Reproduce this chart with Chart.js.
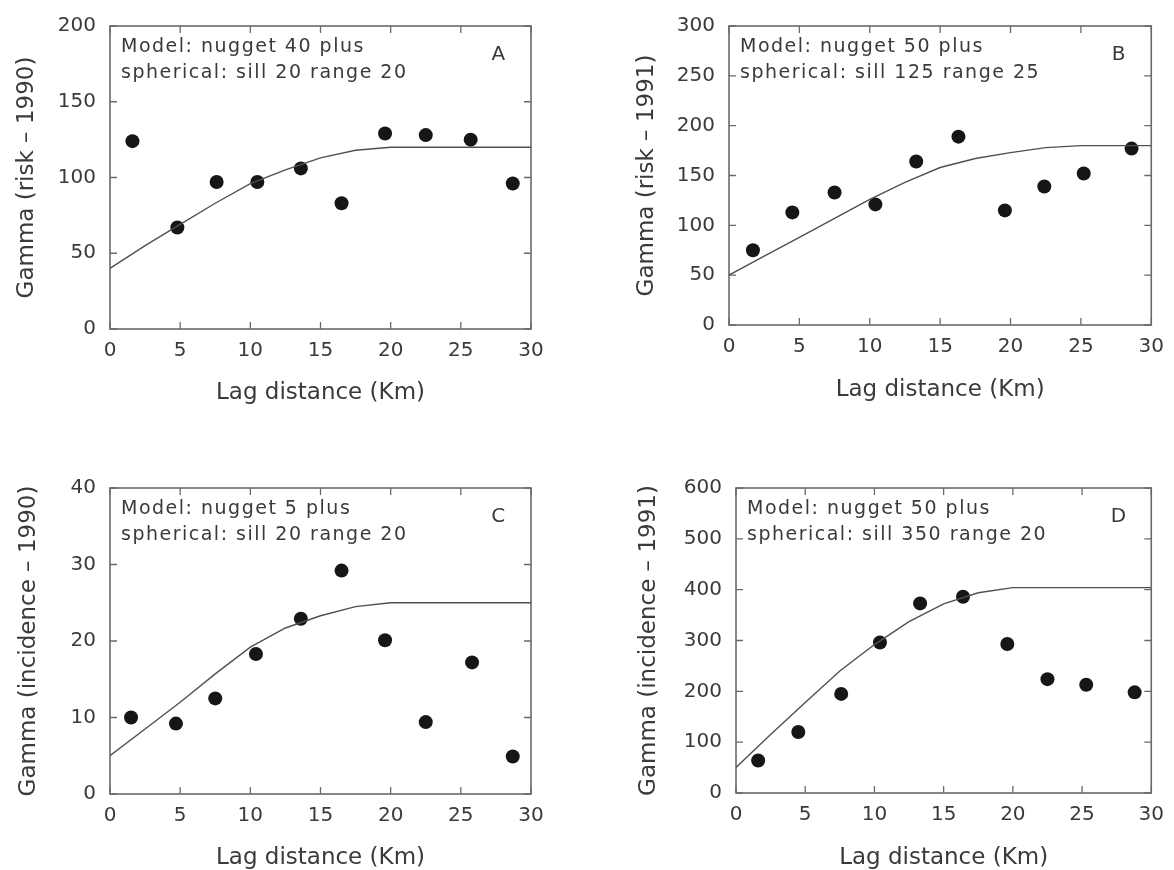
<!DOCTYPE html>
<html><head><meta charset="utf-8">
<script src="https://cdn.jsdelivr.net/npm/chart.js@4.4.1/dist/chart.umd.min.js"></script>
<style>
html,body{margin:0;padding:0;background:#fff;}
body{width:1174px;height:870px;position:relative;overflow:hidden;}
canvas{position:absolute;}
</style></head><body>
<canvas id="cA" width="587" height="435" style="left:0px;top:0px"></canvas>
<canvas id="cB" width="587" height="435" style="left:587px;top:0px"></canvas>
<canvas id="cC" width="587" height="435" style="left:0px;top:435px"></canvas>
<canvas id="cD" width="587" height="435" style="left:587px;top:435px"></canvas>
<script>
// ---- data ----
const xTickValues = [0, 5, 10, 15, 20, 25, 30];

const lagA   = [1.6, 4.8, 7.6, 10.5, 13.6, 16.5, 19.6, 22.5, 25.7, 28.7];
const gammaA = [124, 67, 97, 97, 106, 83, 129, 128, 125, 96];
const modelXA = [0, 2.5, 5, 7.5, 10, 12.5, 15, 17.5, 20, 30];
const modelYA = [40, 55, 69, 83, 96, 105, 113, 118, 120, 120];
const yTicksA = [0, 50, 100, 150, 200];

const lagB   = [1.7, 4.5, 7.5, 10.4, 13.3, 16.3, 19.6, 22.4, 25.2, 28.6];
const gammaB = [75, 113, 133, 121, 164, 189, 115, 139, 152, 177];
const modelXB = [0, 2.5, 5, 7.5, 10, 12.5, 15, 17.5, 20, 22.5, 25, 30];
const modelYB = [50, 69, 88, 107, 126, 143, 158, 167, 173, 178, 180, 180];
const yTicksB = [0, 50, 100, 150, 200, 250, 300];

const lagC   = [1.5, 4.7, 7.5, 10.4, 13.6, 16.5, 19.6, 22.5, 25.8, 28.7];
const gammaC = [10, 9.2, 12.5, 18.3, 22.9, 29.2, 20.1, 9.4, 17.2, 4.9];
const modelXC = [0, 2.5, 5, 7.5, 10, 12.5, 15, 17.5, 20, 30];
const modelYC = [5, 8.5, 12, 15.7, 19.2, 21.7, 23.3, 24.5, 25, 25];
const yTicksC = [0, 10, 20, 30, 40];

const lagD   = [1.6, 4.5, 7.6, 10.4, 13.3, 16.4, 19.6, 22.5, 25.3, 28.8];
const gammaD = [64, 120, 195, 296, 373, 386, 293, 224, 213, 198];
const modelXD = [0, 2.5, 5, 7.5, 10, 12.5, 15, 17.5, 20, 30];
const modelYD = [50, 115, 178, 240, 292, 337, 372, 394, 404, 404];
const yTicksD = [0, 100, 200, 300, 400, 500, 600];

const xTitle = 'Lag distance (Km)';
const yTitles = ['Gamma (risk – 1990)', 'Gamma (risk – 1991)', 'Gamma (incidence – 1990)', 'Gamma (incidence – 1991)'];
const notes1 = ['Model: nugget 40 plus', 'Model: nugget 50 plus', 'Model: nugget 5 plus', 'Model: nugget 50 plus'];
const notes2 = ['spherical: sill 20 range 20', 'spherical: sill 125 range 25', 'spherical: sill 20 range 20', 'spherical: sill 350 range 20'];
const letters = ['A', 'B', 'C', 'D'];

// ---- layout / style (not data) ----
const layouts = [
  {id:'cA', yW:110, padTop:22, padRight:56, xH:106, xTitlePB:30, yTitlePT:16},
  {id:'cB', yW:142, padTop:21, padRight:18, xH:110, xTitlePB:33, yTitlePT:49},
  {id:'cC', yW:110, padTop:53, padRight:56, xH:76,  xTitlePB:0,  yTitlePT:18},
  {id:'cD', yW:149, padTop:53, padRight:13, xH:77,  xTitlePB:0,  yTitlePT:51}
];
const series = [
  {lag:lagA, gamma:gammaA, mx:modelXA, my:modelYA, yt:yTicksA},
  {lag:lagB, gamma:gammaB, mx:modelXB, my:modelYB, yt:yTicksB},
  {lag:lagC, gamma:gammaC, mx:modelXC, my:modelYC, yt:yTicksC},
  {lag:lagD, gamma:gammaD, mx:modelXD, my:modelYD, yt:yTicksD}
];

const TEXT = '#3a3a3a';
const FRAME = '#6a6a6a';

const framePlugin = {
  id: 'frame',
  beforeDatasetsDraw(chart) {
    const {ctx, chartArea: a, scales} = chart;
    ctx.save();
    ctx.strokeStyle = FRAME;
    ctx.lineWidth = 1.6;
    ctx.strokeRect(a.left, a.top, a.right - a.left, a.bottom - a.top);
    ctx.lineWidth = 1.3;
    const tl = 7;
    ctx.beginPath();
    xTickValues.forEach(v => {
      const x = scales.x.getPixelForValue(v);
      ctx.moveTo(x, a.bottom); ctx.lineTo(x, a.bottom - tl);
      ctx.moveTo(x, a.top); ctx.lineTo(x, a.top + tl);
    });
    chart.options.plugins.frame.yt.forEach(v => {
      const y = scales.y.getPixelForValue(v);
      ctx.moveTo(a.left, y); ctx.lineTo(a.left + tl, y);
      ctx.moveTo(a.right, y); ctx.lineTo(a.right - tl, y);
    });
    ctx.stroke();
    ctx.restore();
  },
  afterDraw(chart) {
    const {ctx, chartArea: a} = chart;
    const o = chart.options.plugins.frame;
    ctx.save();
    ctx.fillStyle = TEXT;
    ctx.font = '19px "DejaVu Sans"';
    ctx.textBaseline = 'alphabetic';
    ctx.textAlign = 'left';
    try { ctx.letterSpacing = '1.5px'; } catch (e) {}
    ctx.fillText(o.note1, a.left + 11, a.top + 26);
    ctx.fillText(o.note2, a.left + 11, a.top + 52);
    ctx.font = '20px "DejaVu Sans"';
    ctx.textAlign = 'center';
    ctx.fillText(o.letter, a.right - 32, a.top + 34);
    ctx.restore();
  }
};

series.forEach((s, i) => {
  const L = layouts[i];
  const yMax = s.yt[s.yt.length - 1];
  const yStep = s.yt[1] - s.yt[0];
  new Chart(document.getElementById(L.id), {
    type: 'scatter',
    data: {
      datasets: [
        {
          type: 'line',
          data: s.mx.map((x, k) => ({x, y: s.my[k]})),
          borderColor: '#505050',
          borderWidth: 1.4,
          pointRadius: 0,
          tension: 0,
          fill: false,
          showLine: true
        },
        {
          data: s.lag.map((x, k) => ({x, y: s.gamma[k]})),
          backgroundColor: '#161616',
          borderColor: '#161616',
          borderWidth: 0,
          pointRadius: 7,
          pointHoverRadius: 7
        }
      ]
    },
    options: {
      responsive: false,
      animation: false,
      devicePixelRatio: 1,
      layout: {padding: {top: L.padTop, right: L.padRight, left: 0, bottom: 0}},
      plugins: {
        legend: {display: false},
        tooltip: {enabled: false},
        frame: {yt: s.yt, note1: notes1[i], note2: notes2[i], letter: letters[i]}
      },
      scales: {
        x: {
          type: 'linear', min: 0, max: 30,
          grid: {display: false, drawTicks: false},
          border: {display: false},
          afterFit: sc => { sc.height = L.xH; },
          ticks: {stepSize: 5, autoSkip: false, maxRotation: 0, padding: 10, color: TEXT,
                  font: {family: 'DejaVu Sans', size: 20}},
          title: {display: true, text: xTitle, color: TEXT,
                  font: {family: 'DejaVu Sans', size: 23, lineHeight: 1.0}, padding: {top: 0, bottom: L.xTitlePB}}
        },
        y: {
          type: 'linear', min: 0, max: yMax,
          grid: {display: false, drawTicks: false},
          border: {display: false},
          afterFit: sc => { sc.width = L.yW; },
          ticks: {stepSize: yStep, autoSkip: false, padding: 14, color: TEXT,
                  font: {family: 'DejaVu Sans', size: 20}},
          title: {display: true, text: yTitles[i], color: TEXT,
                  font: {family: 'DejaVu Sans', size: 23, lineHeight: 1.0}, padding: {top: L.yTitlePT, bottom: 0}}
        }
      }
    },
    plugins: [framePlugin]
  });
});
</script>
</body></html>
